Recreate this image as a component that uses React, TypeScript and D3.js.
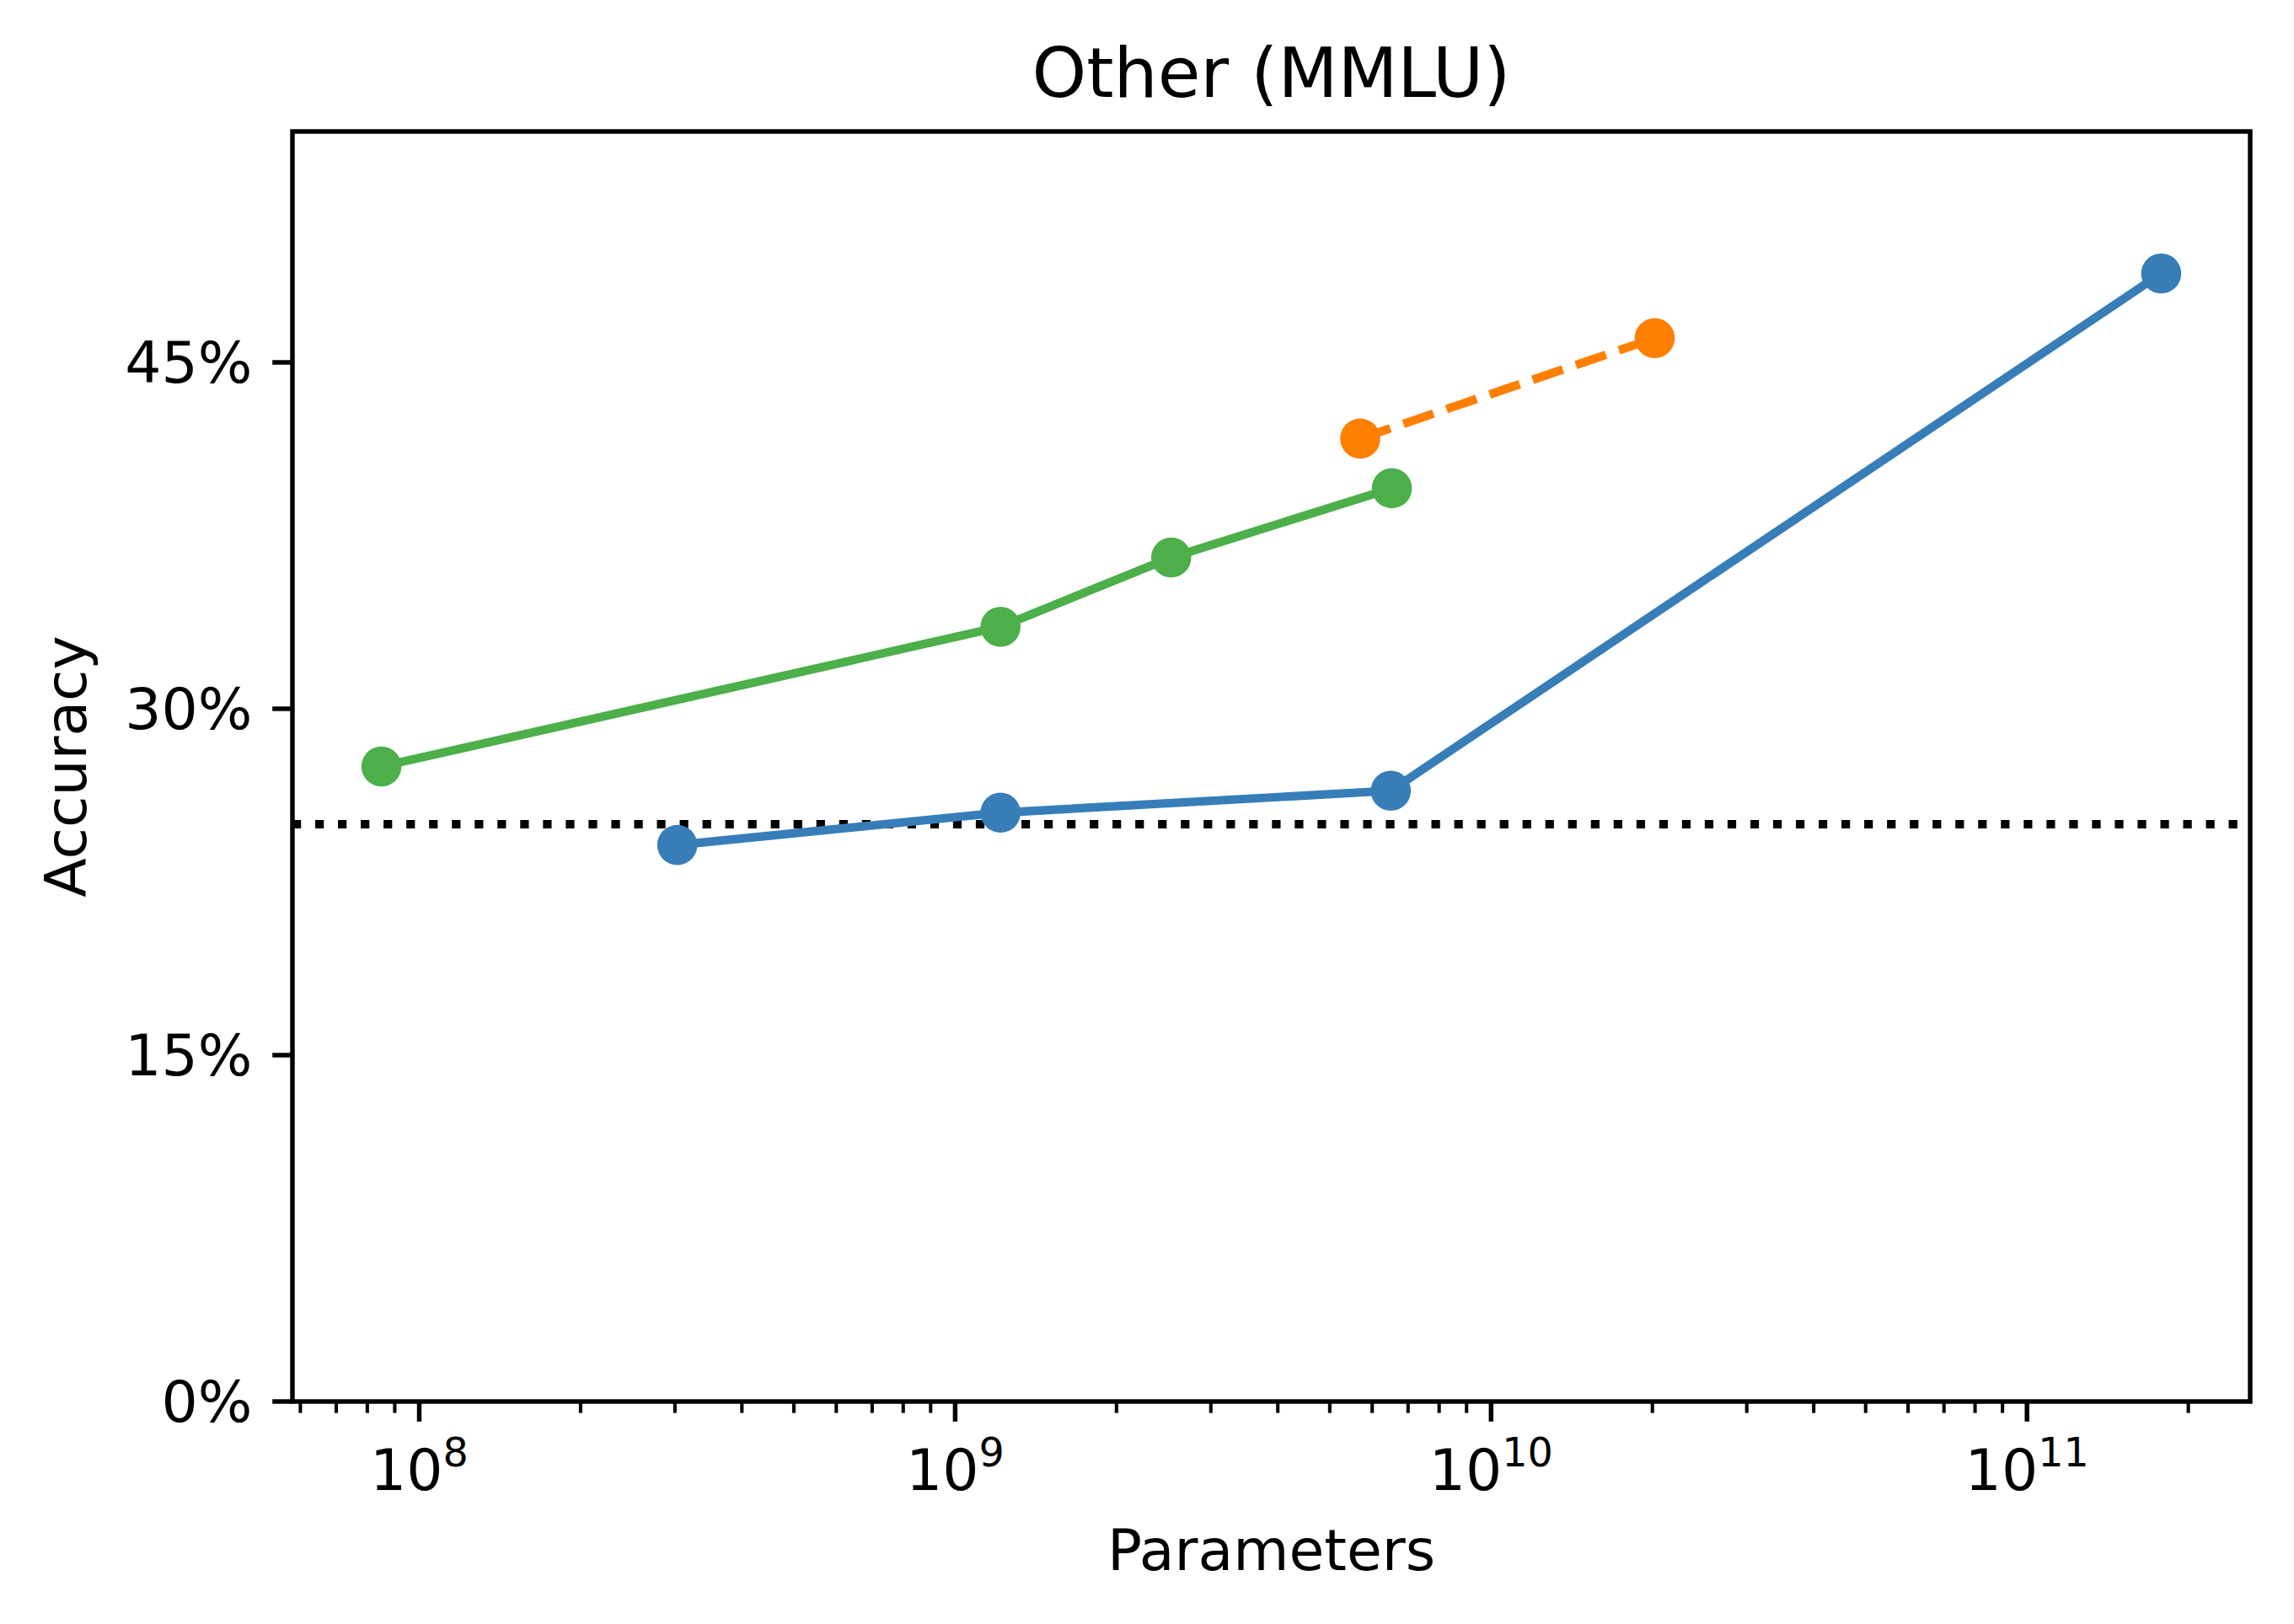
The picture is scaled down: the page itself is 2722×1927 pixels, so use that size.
import React from 'react';
import * as d3 from 'd3';

// Parameter counts and MMLU "Other" accuracy (%)
const greenParams = [8.5e7, 1.215e9, 2.53e9, 6.53e9];
const greenAcc = [27.5, 33.55, 36.55, 39.55];

const blueParams = [3.03e8, 1.215e9, 6.5e9, 1.78e11];
const blueAcc = [24.1, 25.5, 26.45, 48.85];

const orangeParams = [5.7e9, 2.02e10];
const orangeAcc = [41.7, 46.05];

const chanceAcc = 25;
const yTicks = [0, 15, 30, 45];
const yMax = 55;

const title = 'Other (MMLU)';
const xLabel = 'Parameters';
const yLabel = 'Accuracy';

const W = 2722;
const H = 1927;
const margin = { top: 156, right: 52, bottom: 264, left: 347 };
const PT = 6.8; // px per point

const FONT = '"DejaVu Sans", sans-serif';

type Pt = { p: number; a: number };
const zip = (ps: number[], as: number[]): Pt[] => ps.map((p, i) => ({ p, a: as[i] }));

const series = [
  { key: 'green', color: '#4daf4a', dash: undefined as string | undefined, data: zip(greenParams, greenAcc) },
  { key: 'blue', color: '#377eb8', dash: undefined as string | undefined, data: zip(blueParams, blueAcc) },
  { key: 'orange', color: '#ff7f00', dash: `${3.7 * 1.5 * PT} ${1.6 * 1.5 * PT}`, data: zip(orangeParams, orangeAcc) },
];

export default function App() {
  const iw = W - margin.left - margin.right;
  const ih = H - margin.top - margin.bottom;

  // log x domain padded by 5% of the data span, like matplotlib autoscale
  const allLogs = [...greenParams, ...blueParams, ...orangeParams].map(Math.log10);
  const [lo, hi] = d3.extent(allLogs) as [number, number];
  const pad = (hi - lo) * 0.05;
  const x = d3.scaleLog().domain([10 ** (lo - pad), 10 ** (hi + pad)]).range([0, iw]);
  const y = d3.scaleLinear().domain([0, yMax]).range([ih, 0]);

  const line = d3.line<Pt>().x(d => x(d.p)).y(d => y(d.a));

  const xTicks = x.ticks();
  const isMajor = (v: number) => Math.abs(Math.log10(v) - Math.round(Math.log10(v))) < 1e-9;

  const lw = 1.5 * PT;
  const spine = 0.8 * PT;
  const majorLen = 3.5 * PT;
  const minorLen = 2 * PT;
  const tickFont = 10 * PT;

  return (
    <svg width={W} height={H} style={{ position: 'absolute', left: 0, top: 0, background: '#fff' }} fontFamily={FONT}>
      <rect width={W} height={H} fill="#fff" />
      <text x={margin.left + iw / 2} y={margin.top - 6 * PT} fontSize={12.1 * PT} textAnchor="middle">{title}</text>

      <g transform={`translate(${margin.left},${margin.top})`}>
        {/* chance line */}
        <line x1={0} x2={iw} y1={y(chanceAcc)} y2={y(chanceAcc)} stroke="#000" strokeWidth={lw}
          strokeDasharray={`${1.5 * PT} ${1.65 * 1.5 * PT}`} strokeLinecap="butt" />

        {series.map(s => (
          <g key={s.key}>
            <path d={line(s.data) || ''} fill="none" stroke={s.color} strokeWidth={lw}
              strokeDasharray={s.dash} strokeLinejoin="round" strokeLinecap={s.dash ? 'butt' : 'square'} />
            {s.data.map((d, i) => (
              <circle key={i} cx={x(d.p)} cy={y(d.a)} r={3.5 * PT} fill={s.color} />
            ))}
          </g>
        ))}

        {/* spines */}
        <rect x={0} y={0} width={iw} height={ih} fill="none" stroke="#000" strokeWidth={spine} />

        {/* y ticks */}
        {yTicks.map(t => (
          <g key={t} transform={`translate(0,${y(t)})`}>
            <line x1={-majorLen} x2={0} stroke="#000" strokeWidth={spine} />
            <text x={-majorLen - 3.5 * PT} dy="0.36em" fontSize={tickFont} textAnchor="end">{`${t}%`}</text>
          </g>
        ))}

        {/* x ticks */}
        {xTicks.map(t => {
          const major = isMajor(t);
          return (
            <g key={t} transform={`translate(${x(t)},${ih})`}>
              <line y1={0} y2={major ? majorLen : minorLen} stroke="#000" strokeWidth={major ? spine : 0.6 * PT} />
              {major && (
                <text y={105} fontSize={tickFont} textAnchor="middle">
                  <tspan>10</tspan>
                  <tspan dy={-28} fontSize={tickFont * 0.7}>{Math.round(Math.log10(t))}</tspan>
                </text>
              )}
            </g>
          );
        })}

        <text x={iw / 2} y={ih + 200} fontSize={tickFont} textAnchor="middle">{xLabel}</text>
        <text transform={`translate(${102 - margin.left},${ih / 2}) rotate(-90)`} fontSize={tickFont} textAnchor="middle">{yLabel}</text>
      </g>
    </svg>
  );
}
